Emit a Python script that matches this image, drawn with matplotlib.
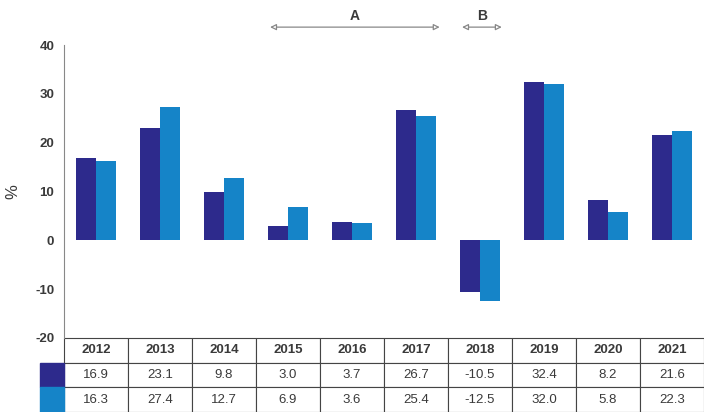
import matplotlib.pyplot as plt
import numpy as np
from matplotlib.patches import Rectangle

years = ['2012', '2013', '2014', '2015', '2016', '2017', '2018', '2019', '2020', '2021']
series_dark = [16.9, 23.1, 9.8, 3.0, 3.7, 26.7, -10.5, 32.4, 8.2, 21.6]
series_light = [16.3, 27.4, 12.7, 6.9, 3.6, 25.4, -12.5, 32.0, 5.8, 22.3]

DARK = '#2d2a8c'
LIGHT = '#1584c8'
TXT = '#3a3a3a'

plt.rcParams['font.family'] = ['Liberation Sans', 'DejaVu Sans']
plt.rcParams['axes.unicode_minus'] = False

fig = plt.figure(figsize=(7.04, 4.12), dpi=100)
ax = fig.add_axes([64 / 704, 1 - 338 / 412, 640 / 704, 293 / 412])

x = np.arange(len(years))
w = 0.32
ax.bar(x - w / 2, series_dark, width=w, color=DARK)
ax.bar(x + w / 2, series_light, width=w, color=LIGHT)

ax.set_xlim(-0.5, len(years) - 0.5)
ax.set_ylim(-20, 40)
ax.set_yticks(range(-20, 41, 10))
ax.set_xticks([])
ax.tick_params(axis='y', length=0, pad=7, labelsize=9.5, labelcolor=TXT)
for lab in ax.get_yticklabels():
    lab.set_fontweight('bold')
for s in ['top', 'right', 'bottom']:
    ax.spines[s].set_visible(False)
ax.spines['left'].set_color('#888888')
ax.set_ylabel('%', fontsize=12, color=TXT)
ax.yaxis.set_label_coords(-0.068, 0.5)

# data table under the plot
h = 74 / 293
tbl = ax.table(cellText=[years, [f'{v:.1f}' for v in series_dark],
                         [f'{v:.1f}' for v in series_light]],
               cellLoc='center', bbox=[0, -h, 1, h])
tbl.auto_set_font_size(False)
tbl.set_fontsize(9.5)
for (r, c), cell in tbl.get_celld().items():
    cell.set_edgecolor('#444444')
    cell.set_linewidth(0.8)
    cell.get_text().set_color(TXT)
    if r == 0:
        cell.get_text().set_fontweight('bold')

# row colour keys left of the table
for i, col in enumerate([DARK, LIGHT]):
    ax.add_patch(Rectangle((-24 / 640, -h + (1 - i) * h / 3), 24 / 640, h / 3,
                           transform=ax.transAxes, color=col, clip_on=False))

# period arrows above the chart
arrows = [('A', 2.72, 5.37), ('B', 5.72, 6.34)]
for name, x0, x1 in arrows:
    ax.annotate('', xy=(x0, 1.061), xytext=(x1, 1.061),
                xycoords=('data', 'axes fraction'),
                arrowprops=dict(arrowstyle='<|-|>', fc='white', ec='#888888',
                                lw=0.9, mutation_scale=9, shrinkA=0, shrinkB=0))
    ax.text((x0 + x1) / 2, 1.10, name, transform=ax.get_xaxis_transform(),
            ha='center', va='center', fontsize=10, fontweight='bold', color=TXT)

fig.savefig('out.png', dpi=100)
